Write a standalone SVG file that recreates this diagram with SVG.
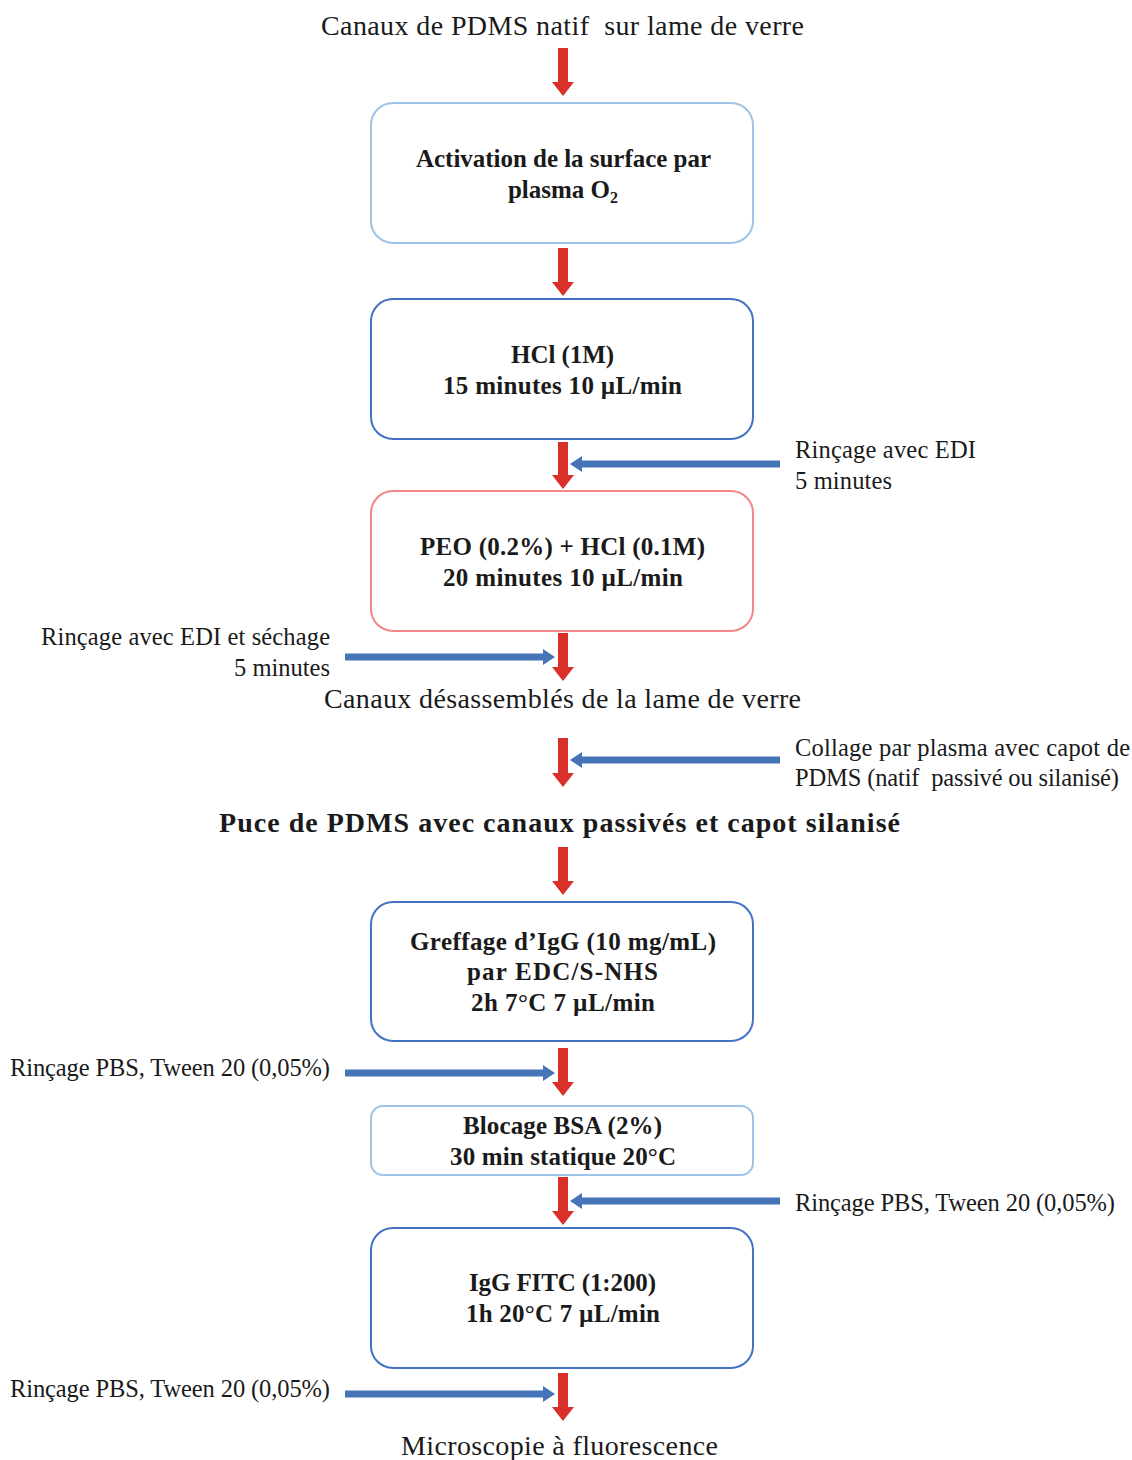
<svg xmlns="http://www.w3.org/2000/svg" width="1132" height="1460" viewBox="0 0 1132 1460">
<style>
.bg{fill:#ffffff}
.box{fill:#ffffff;stroke-width:2}
.lb{stroke:#9DC3E6}
.mb{stroke:#4472C4}
.rd{stroke:#F4868A}
.red{fill:#D9302A}
.blue{fill:#4674B8}
text{font-family:"Liberation Serif","DejaVu Serif",serif;fill:#1a1a1a;white-space:pre}
.t{font-size:28px}
.s{font-size:24.5px}
.b{font-size:25px;font-weight:bold;text-anchor:middle}
.c{text-anchor:middle}
.r{text-anchor:end}
</style>
<rect class="bg" x="0" y="0" width="1132" height="1460"/>
<g id="connectors">
<polygon class="red" points="558,48 568,48 568,82 574,82 563,96 552,82 558,82"/>
<polygon class="red" points="558,248 568,248 568,282 574,282 563,296 552,282 558,282"/>
<polygon class="red" points="558,442 568,442 568,475 574,475 563,489 552,475 558,475"/>
<polygon class="red" points="558,633 568,633 568,667 574,667 563,681 552,667 558,667"/>
<polygon class="red" points="558,738 568,738 568,773 574,773 563,787 552,773 558,773"/>
<polygon class="red" points="558,847 568,847 568,881 574,881 563,895 552,881 558,881"/>
<polygon class="red" points="558,1048 568,1048 568,1082 574,1082 563,1096 552,1082 558,1082"/>
<polygon class="red" points="558,1177 568,1177 568,1211 574,1211 563,1225 552,1211 558,1211"/>
<polygon class="red" points="558,1373 568,1373 568,1407 574,1407 563,1421 552,1407 558,1407"/>
<polygon class="blue" points="780,460.5 582,460.5 582,456 570,464 582,472 582,467.5 780,467.5"/>
<polygon class="blue" points="345,653.5 543,653.5 543,649 555,657 543,665 543,660.5 345,660.5"/>
<polygon class="blue" points="780,756.5 582,756.5 582,752 570,760 582,768 582,763.5 780,763.5"/>
<polygon class="blue" points="345,1069.5 543,1069.5 543,1065 555,1073 543,1081 543,1076.5 345,1076.5"/>
<polygon class="blue" points="780,1197.5 582,1197.5 582,1193 570,1201 582,1209 582,1204.5 780,1204.5"/>
<polygon class="blue" points="345,1390.5 543,1390.5 543,1386 555,1394 543,1402 543,1397.5 345,1397.5"/>
</g>
<g id="start"><text class="t c" x="562.5" y="35" textLength="483">Canaux de PDMS natif  sur lame de verre</text></g>
<g id="activation">
<rect class="box lb" x="371" y="103" width="382" height="140" rx="22"/>
<text class="b" x="563.5" y="167" textLength="295">Activation de la surface par</text>
<text class="b" x="563" y="198">plasma O<tspan font-size="16" dy="5">2</tspan></text>
</g>
<g id="hcl">
<rect class="box mb" x="371" y="299" width="382" height="140" rx="22"/>
<text class="b" x="562.5" y="363" textLength="103">HCl (1M)</text>
<text class="b" x="562.5" y="394" textLength="239">15 minutes 10 µL/min</text>
</g>
<g id="rincage1">
<text class="s" x="795" y="458" textLength="181">Rinçage avec EDI</text>
<text class="s" x="795" y="489" textLength="97">5 minutes</text>
</g>
<g id="peo">
<rect class="box rd" x="371" y="491" width="382" height="140" rx="22"/>
<text class="b" x="562.5" y="555" textLength="285">PEO (0.2%) + HCl (0.1M)</text>
<text class="b" x="563" y="586" textLength="240">20 minutes 10 µL/min</text>
</g>
<g id="rincage2">
<text class="s r" x="330" y="645" textLength="289">Rinçage avec EDI et séchage</text>
<text class="s r" x="330" y="676" textLength="96">5 minutes</text>
</g>
<g id="desassembles"><text class="t c" x="562.5" y="708" textLength="477">Canaux désassemblés de la lame de verre</text></g>
<g id="collage">
<text class="s" x="795" y="756" textLength="335">Collage par plasma avec capot de</text>
<text class="s" x="795" y="786" textLength="324">PDMS (natif  passivé ou silanisé)</text>
</g>
<g id="puce"><text class="t c" x="559.5" y="832" font-weight="bold" textLength="681">Puce de PDMS avec canaux passivés et capot silanisé</text></g>
<g id="greffage">
<rect class="box mb" x="371" y="902" width="382" height="139" rx="22"/>
<text class="b" x="563" y="950" textLength="306">Greffage d’IgG (10 mg/mL)</text>
<text class="b" x="562.5" y="980" textLength="191">par EDC/S-NHS</text>
<text class="b" x="563" y="1011" textLength="184">2h 7°C 7 µL/min</text>
</g>
<g id="rincage3"><text class="s" x="10" y="1076" textLength="320">Rinçage PBS, Tween 20 (0,05%)</text></g>
<g id="blocage">
<rect class="box lb" x="371" y="1106" width="382" height="69" rx="12"/>
<text class="b" x="562.5" y="1134" textLength="199">Blocage BSA (2%)</text>
<text class="b" x="563" y="1165" textLength="226">30 min statique 20°C</text>
</g>
<g id="rincage4"><text class="s" x="795" y="1211" textLength="320">Rinçage PBS, Tween 20 (0,05%)</text></g>
<g id="fitc">
<rect class="box mb" x="371" y="1228" width="382" height="140" rx="22"/>
<text class="b" x="562.5" y="1291" textLength="187">IgG FITC (1:200)</text>
<text class="b" x="563" y="1322" textLength="194">1h 20°C 7 µL/min</text>
</g>
<g id="rincage5"><text class="s" x="10" y="1397" textLength="320">Rinçage PBS, Tween 20 (0,05%)</text></g>
<g id="end"><text class="t c" x="559.5" y="1455" textLength="317">Microscopie à fluorescence</text></g>
</svg>
